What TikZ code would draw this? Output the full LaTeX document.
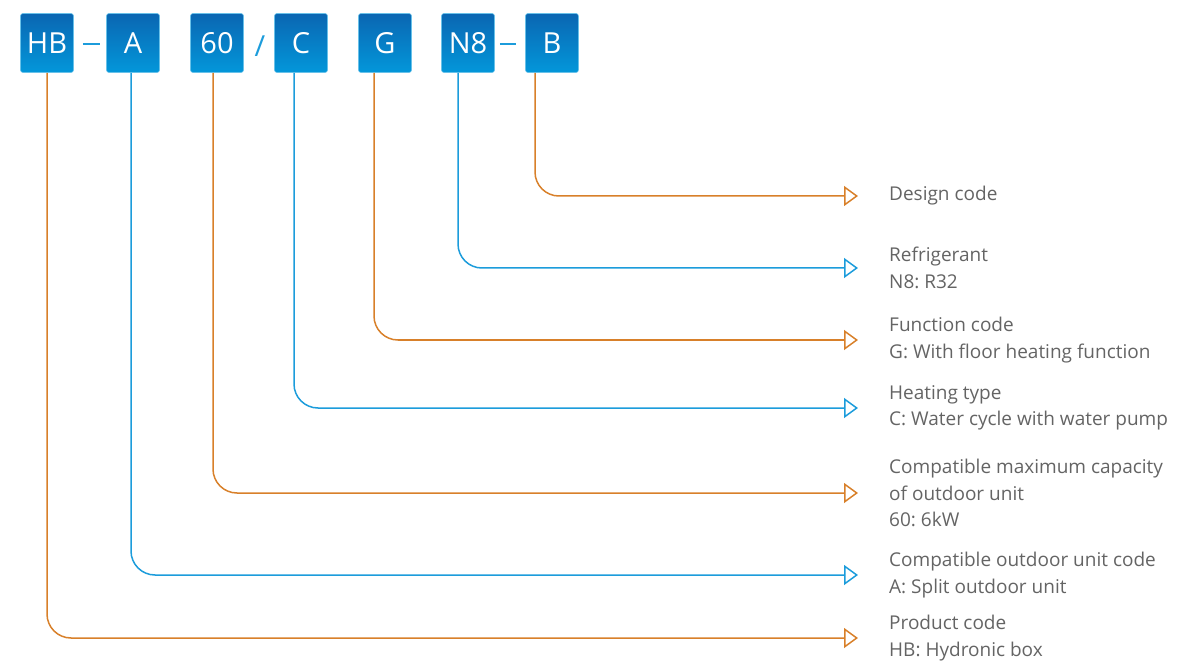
\documentclass[tikz,border=0pt]{standalone}
\usepackage{fontspec}
\setmainfont{Open Sans}
\usepackage{xcolor}
\usepackage{tikz}
\usetikzlibrary{arrows.meta}
\definecolor{codeorange}{HTML}{D8802A}
\definecolor{codeblue}{HTML}{1C9CDB}
\definecolor{boxtop}{HTML}{0A66B2}
\definecolor{boxbot}{HTML}{0397DA}
\definecolor{txtgray}{HTML}{646464}
\frenchspacing
\tikzset{
codebox/.style={
  rectangle,rounded corners=2.5pt,
  top color=boxtop,bottom color=boxbot,
  draw=boxbot!60!white,line width=0.6pt,
  minimum width=53pt,minimum height=59pt,
  inner sep=0pt,text=white,
  font=\fontsize{29}{29}\selectfont
},
sepmark/.style={text=codeblue,inner sep=0pt,font=\fontsize{29}{29}\selectfont},
sepline/.style={codeblue,line width=2.2pt},
infotext/.style={
  anchor=west,inner sep=0pt,align=left,text=txtgray,
  font=\fontsize{19}{26.5}\selectfont
},
conn/.style={
  line width=1.5pt,rounded corners=24pt,shorten >=31pt,
  -{Triangle[open,length=14pt,width=20pt,line width=1.5pt]}
},
}
\begin{document}
\begin{tikzpicture}[x=1pt,y=-1pt]
\useasboundingbox (0,0) rectangle (1179,663);
% the code boxes, connectors and explanations
\foreach \nm/\code/\bx/\off/\ly/\col/\info in {
  hb/HB/47/0/638/codeorange/{Product code\\HB: Hydronic box},
  a/A/133/-2/575/codeblue/{Compatible outdoor unit code\\A: Split outdoor unit},
  cap/60/217/-4/493/codeorange/{Compatible maximum capacity\\of outdoor unit\\60: 6kW},
  c/C/301/-7/408/codeblue/{Heating type\\C: Water cycle with water pump},
  g/G/385/-11/340/codeorange/{Function code\\G: With floor heating function},
  n8/N8/468/-10/268/codeblue/{Refrigerant\\N8: R32},
  b/B/552/-17/196/codeorange/{Design code}}
{
  \node[codebox] (box-\nm) at (\bx,43) {\code};
  \node[infotext] (info-\nm) at (889,\ly) {\info};
  \draw[conn,\col] ([xshift=\off pt]box-\nm.south) |- (info-\nm.west);
}
% separators
\draw[sepline] ([xshift=9pt,yshift=-1pt]box-hb.east) -- ([xshift=-6pt,yshift=-1pt]box-a.west);
\node[sepmark] (slash) at (260,46) {/};
\draw[sepline] ([xshift=5pt,yshift=-1pt]box-n8.east) -- ([xshift=-9pt,yshift=-1pt]box-b.west);
\end{tikzpicture}
\end{document}
